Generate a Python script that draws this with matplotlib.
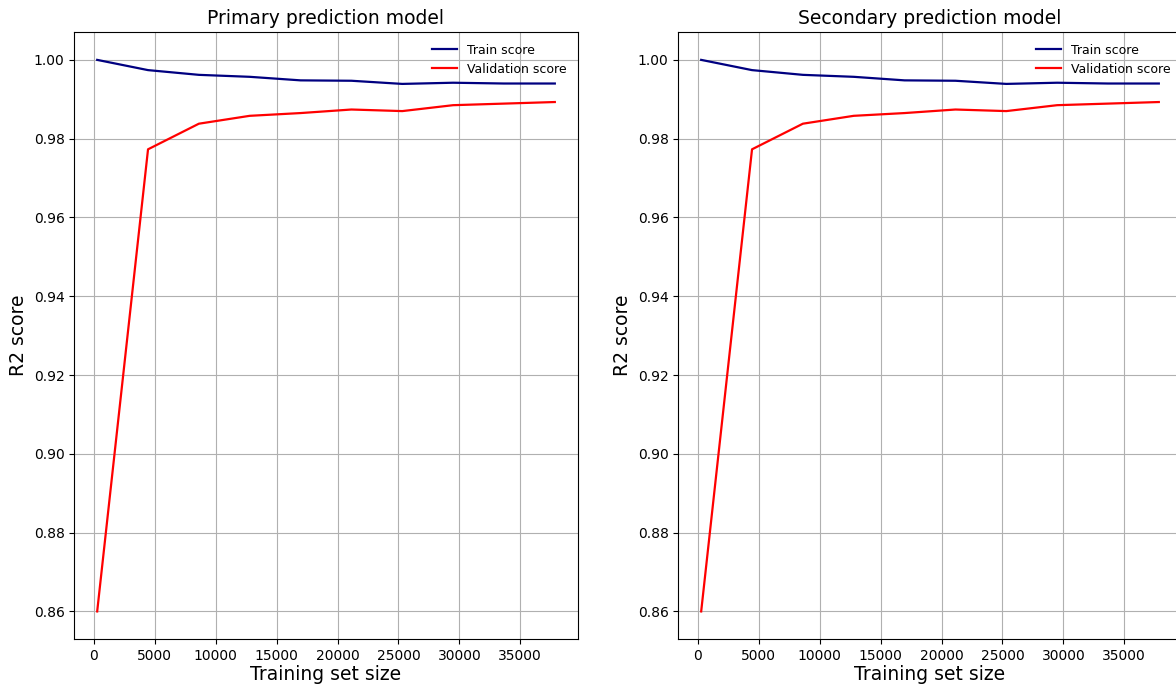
import matplotlib

matplotlib.use("Agg")
import matplotlib.pyplot as plt

# training set sizes used by the learning curve
train_sizes = [262, 4437, 8612, 12786, 16961, 21136, 25311, 29485, 33660, 37835]

# mean R2 scores (both models give nearly the same curve)
primary_train = [1.0000, 0.9974, 0.9962, 0.9957, 0.9948, 0.9947, 0.9939, 0.9942, 0.9940, 0.9940]
primary_valid = [0.8600, 0.9773, 0.9838, 0.9858, 0.9865, 0.9874, 0.9870, 0.9885, 0.9889, 0.9893]

secondary_train = [1.0000, 0.9974, 0.9962, 0.9957, 0.9948, 0.9947, 0.9939, 0.9942, 0.9940, 0.9940]
secondary_valid = [0.8600, 0.9773, 0.9838, 0.9858, 0.9865, 0.9874, 0.9870, 0.9885, 0.9889, 0.9893]

titles = ["Primary prediction model", "Secondary prediction model"]

W, H = 1176, 686
fig = plt.figure(figsize=(W / 100, H / 100), dpi=100)

# axes boxes in pixels: (left, bottom, width, height); the second one runs off the right edge
boxes = [(74.3, 47, 503.4, 606.7), (678.3, 47, 503.4, 606.7)]
series = [(primary_train, primary_valid), (secondary_train, secondary_valid)]

for box, (tr, va), title in zip(boxes, series, titles):
    l, b, w, h = box
    ax = fig.add_axes([l / W, b / H, w / W, h / H])
    ax.plot(train_sizes, tr, color="navy", lw=1.6, label="Train score")
    ax.plot(train_sizes, va, color="red", lw=1.6, label="Validation score")
    ax.set_title(title, fontsize=13.5)
    ax.set_xlabel("Training set size", fontsize=13.5, labelpad=2)
    ax.set_ylabel("R2 score", fontsize=13.5)
    ax.set_xticks(range(0, 40000, 5000))
    ax.tick_params(labelsize=10)
    ax.grid(True, color="#b0b0b0", lw=0.8)
    ax.legend(loc="upper right", frameon=False, fontsize=9)

fig.savefig("out.png", dpi=100)
